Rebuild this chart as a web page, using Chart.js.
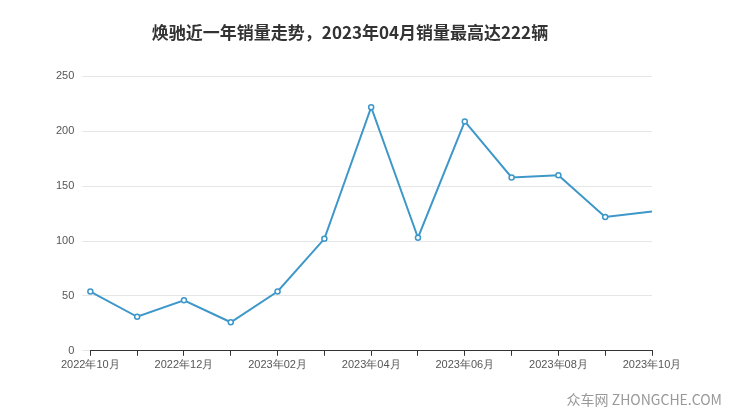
<!DOCTYPE html>
<html><head><meta charset="utf-8">
<script src="https://cdn.jsdelivr.net/npm/chart.js@4"></script>
<style>body{margin:0;background:#fff}#w{position:relative;width:740px;height:417px}
#wm{position:absolute;right:18px;bottom:8px;font:14px "Noto Sans CJK SC",sans-serif;color:#999}</style>
</head><body><div id="w"><canvas id="c" width="740" height="417"></canvas><div id="wm">众车网 ZHONGCHE.COM</div></div>
<script>
const categories=["2022年10月","2022年11月","2022年12月","2023年01月","2023年02月","2023年03月","2023年04月","2023年05月","2023年06月","2023年07月","2023年08月","2023年09月","2023年10月"];
const sales=[54,31,46,26,54,102,222,103,209,158,160,122,127];
const yTicks=[0,50,100,150,200,250];
new Chart(document.getElementById('c'),{type:'line',
data:{labels:categories,datasets:[{data:sales,borderColor:'#3d97c9',borderWidth:2,tension:0,
pointRadius:sales.map((v,i)=>i===sales.length-1?0:2.5),pointBackgroundColor:'#fff',pointBorderColor:'#3d97c9',pointBorderWidth:1.5}]},
options:{responsive:false,animation:false,layout:{padding:{left:48,right:88,top:14,bottom:42}},
plugins:{legend:{display:false},tooltip:{enabled:false},
title:{display:true,text:'焕驰近一年销量走势，2023年04月销量最高达222辆',font:{size:17,weight:'bold',family:'"Noto Sans CJK SC"'},color:'#333',padding:{top:8,bottom:34}}},
scales:{x:{offset:false,grid:{display:true,drawOnChartArea:false,tickLength:5,color:'#333'},border:{color:'#333'},ticks:{autoSkip:false,maxRotation:0,color:'#555',font:{size:11},callback:(v,i)=>i%2===0?categories[i]:''}},
y:{min:0,max:250,afterBuildTicks:a=>{a.ticks=yTicks.map(v=>({value:v}))},grid:{color:'#e6e6e6'},border:{display:false},ticks:{color:'#555',font:{size:11},padding:8}}}}});
</script></body></html>
